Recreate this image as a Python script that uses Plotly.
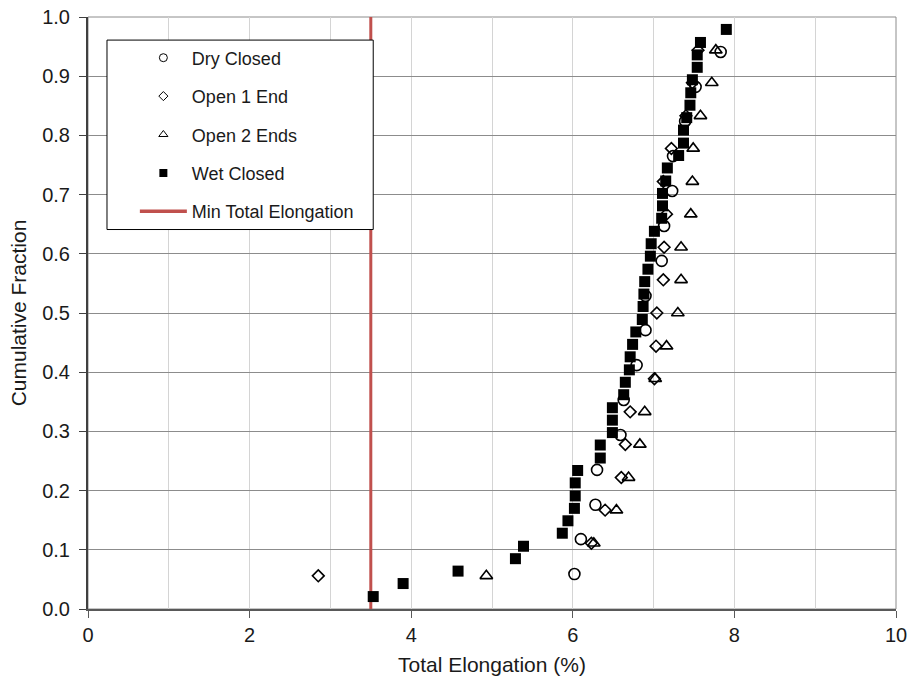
import plotly.graph_objects as go

# ---- data ----
dry_x = [6.02, 6.10, 6.28, 6.30, 6.59, 6.63, 6.79, 6.90, 6.90, 7.10, 7.13, 7.23, 7.24, 7.39, 7.52, 7.83]
dry_y = [0.059, 0.118, 0.176, 0.235, 0.294, 0.353, 0.412, 0.471, 0.529, 0.588, 0.647, 0.706, 0.765, 0.824, 0.882, 0.941]

open1_x = [2.85, 6.23, 6.40, 6.60, 6.65, 6.71, 7.01, 7.03, 7.04, 7.12, 7.13, 7.16, 7.12, 7.22, 7.40, 7.48, 7.55]
open1_y = [0.056, 0.111, 0.167, 0.222, 0.278, 0.333, 0.389, 0.444, 0.500, 0.556, 0.611, 0.667, 0.722, 0.778, 0.833, 0.889, 0.944]

open2_x = [4.93, 6.26, 6.54, 6.69, 6.83, 6.89, 7.02, 7.16, 7.30, 7.34, 7.34, 7.46, 7.48, 7.49, 7.58, 7.72, 7.77]
open2_y = [0.056, 0.111, 0.167, 0.222, 0.278, 0.333, 0.389, 0.444, 0.500, 0.556, 0.611, 0.667, 0.722, 0.778, 0.833, 0.889, 0.944]

wet_x = [3.53, 3.90, 4.58, 5.29, 5.39, 5.87, 5.94, 6.02, 6.03, 6.03, 6.06, 6.34, 6.34, 6.49, 6.49, 6.49,
         6.63, 6.65, 6.70, 6.71, 6.74, 6.78, 6.86, 6.87, 6.88, 6.89, 6.93, 6.96, 6.97, 7.01, 7.10, 7.11,
         7.11, 7.15, 7.17, 7.31, 7.37, 7.37, 7.41, 7.45, 7.46, 7.48, 7.54, 7.54, 7.58, 7.90]
wet_y = [0.021, 0.043, 0.064, 0.085, 0.106, 0.128, 0.149, 0.170, 0.191, 0.213, 0.234, 0.255, 0.277, 0.298, 0.319, 0.340,
         0.362, 0.383, 0.404, 0.426, 0.447, 0.468, 0.489, 0.511, 0.532, 0.553, 0.574, 0.596, 0.617, 0.638, 0.660, 0.681,
         0.702, 0.723, 0.745, 0.766, 0.787, 0.809, 0.830, 0.851, 0.872, 0.894, 0.915, 0.936, 0.957, 0.979]

min_elong = 3.5
y_span = [0.0, 1.0]

x_ticks = [0, 2, 4, 6, 8, 10]
x_tick_labels = ["0", "2", "4", "6", "8", "10"]

FONT = "Liberation Sans, Arial, sans-serif"
TXT = "#1a1a1a"
RED = "#C0504D"

fig = go.Figure()

# red minimum line (drawn first; legend box covers it)
fig.add_trace(go.Scatter(x=[min_elong, min_elong], y=y_span, mode="lines",
                         line=dict(color=RED, width=3), showlegend=False, hoverinfo="skip"))

fig.add_trace(go.Scatter(x=dry_x, y=dry_y, mode="markers", showlegend=False,
                         marker=dict(symbol="circle-open", size=11, color="black", line=dict(width=1.6))))
fig.add_trace(go.Scatter(x=open1_x, y=open1_y, mode="markers", showlegend=False,
                         marker=dict(symbol="diamond-open", size=9, color="black", line=dict(width=1.6))))
fig.add_trace(go.Scatter(x=open2_x, y=open2_y, mode="markers", showlegend=False,
                         marker=dict(symbol="triangle-up-open", size=11, color="black", line=dict(width=1.6))))
fig.add_trace(go.Scatter(x=wet_x, y=wet_y, mode="markers", showlegend=False,
                         marker=dict(symbol="square", size=11, color="black", line=dict(width=0))))

# legend entries (smaller symbols, like the reference legend)
leg = [
    ("Dry Closed", dict(symbol="circle-open", size=8, color="black", line=dict(width=1))),
    ("Open 1 End", dict(symbol="diamond-open", size=7, color="black", line=dict(width=1))),
    ("Open 2 Ends", dict(symbol="triangle-up-open", size=8, color="black", line=dict(width=1))),
    ("Wet Closed", dict(symbol="square", size=8, color="black")),
]
for i, (name, mk) in enumerate(leg):
    fig.add_trace(go.Scatter(x=[None], y=[None], mode="markers", name=name, marker=mk,
                             legendgroup=f"g{i}"))
fig.add_trace(go.Scatter(x=[None], y=[None], mode="lines", name="Min Total Elongation",
                         line=dict(color=RED, width=3.5), legendgroup="g9"))

# plot frame (top / right edges)
fig.add_shape(type="rect", xref="paper", yref="paper", x0=0, x1=1, y0=0, y1=1,
              line=dict(color="#8c8c8c", width=1), layer="below")

# legend box
fig.add_shape(type="rect", xref="x", yref="y", x0=0.235, x1=3.53, y0=0.641, y1=0.961,
              line=dict(color="black", width=1), fillcolor="white", layer="above")

fig.update_layout(
    width=912, height=683,
    margin=dict(l=88, r=16, t=17, b=74, autoexpand=False),
    paper_bgcolor="white", plot_bgcolor="white",
    font=dict(family=FONT, size=20, color=TXT),
    legend=dict(x=0.058, y=0.962, xanchor="left", yanchor="top",
                bgcolor="rgba(0,0,0,0)", borderwidth=0,
                font=dict(family=FONT, size=18, color=TXT),
                itemwidth=47, traceorder="grouped", tracegroupgap=12),
)

fig.update_xaxes(range=[0, 10], tickvals=x_ticks, ticktext=x_tick_labels, automargin=False,
                 showgrid=True, gridcolor="#d4d4d4", gridwidth=1,
                 minor=dict(dtick=1, showgrid=True, gridcolor="#d4d4d4", gridwidth=1, ticks=""),
                 showline=True, linecolor="#595959", linewidth=2,
                 ticks="outside", ticklen=7, tickcolor="#595959", tickwidth=1,
                 tickfont=dict(size=20, family=FONT, color=TXT),
                 zeroline=False,
                 title=dict(text="Total Elongation (%)", font=dict(size=21, family=FONT, color=TXT), standoff=12))
fig.update_yaxes(range=[0, 1], dtick=0.1, tickformat=".1f", automargin=False,
                 showgrid=True, gridcolor="#8c8c8c", gridwidth=1,
                 showline=True, linecolor="#404040", linewidth=2,
                 ticks="outside", ticklen=7, tickcolor="#404040", tickwidth=1,
                 tickfont=dict(size=20, family=FONT, color=TXT), ticklabelstandoff=5,
                 zeroline=False,
                 title=dict(text="Cumulative Fraction", font=dict(size=21, family=FONT, color=TXT), standoff=10))

fig.write_html("out.html", config={"displayModeBar": False},
               post_script="document.body.style.margin='0px';document.body.style.overflow='hidden';")
